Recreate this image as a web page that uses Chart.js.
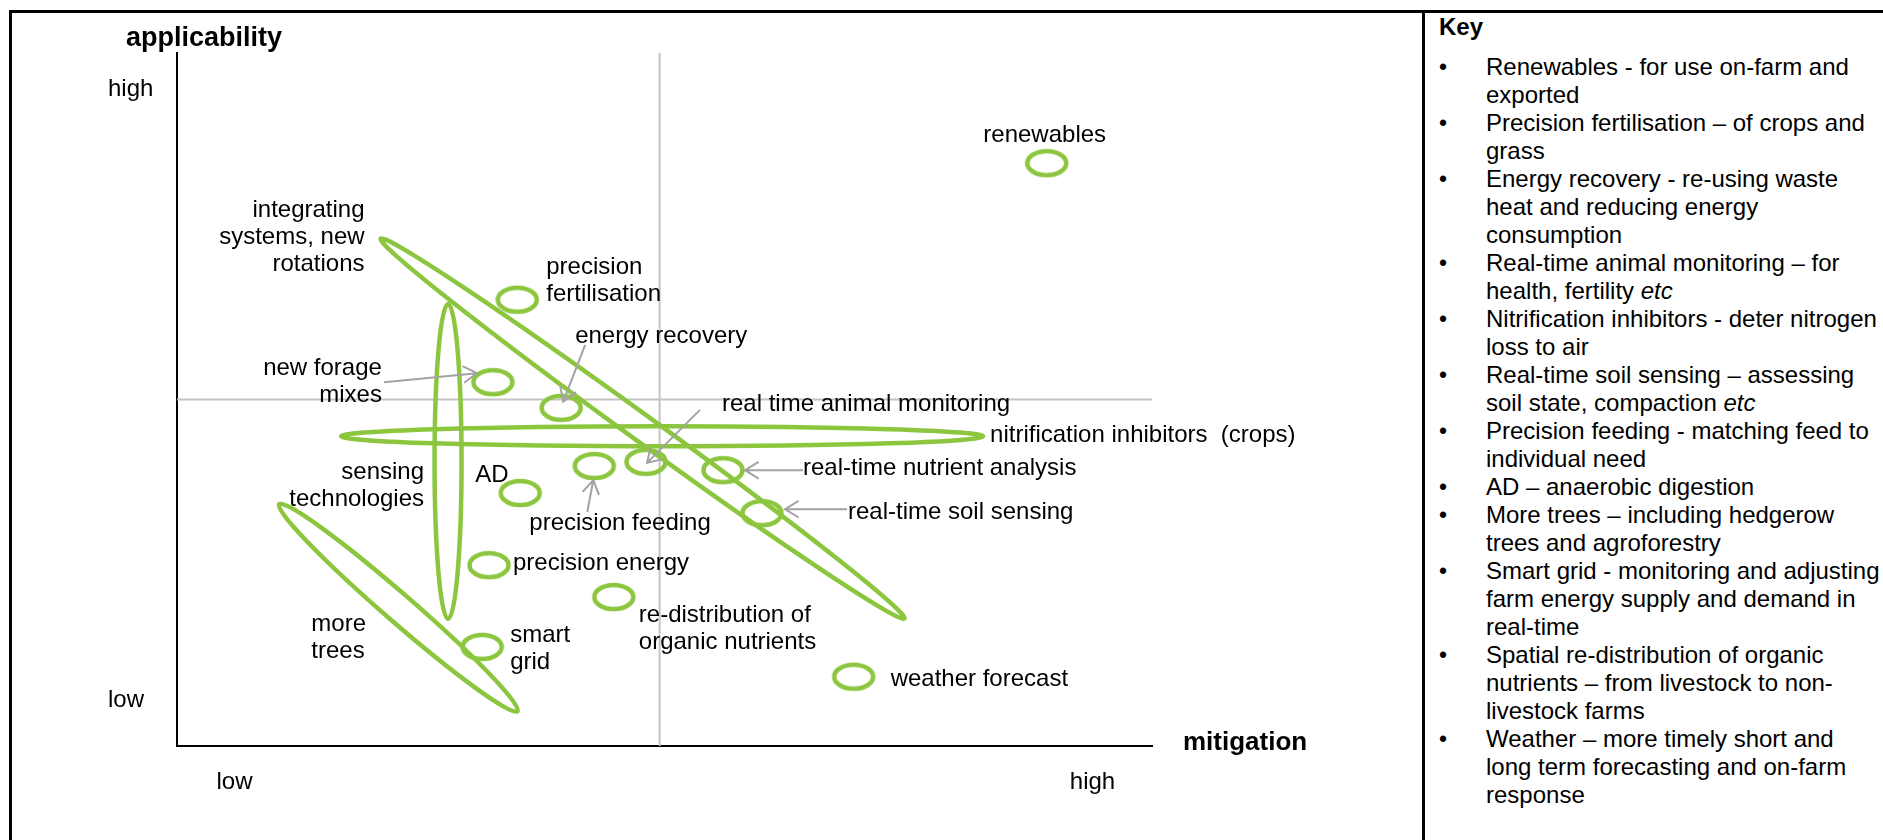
<!DOCTYPE html>
<html lang="en">
<head>
  <meta charset="UTF-8" />
  <title>Mitigation vs applicability</title>
  <script src="https://cdn.jsdelivr.net/npm/chart.js"></script>
  <style>
    body { margin: 0; background: #fff; font-family: 'Liberation Sans', Arial, sans-serif; }
    #frame { position: absolute; left: 9px; top: 10px; width: 1874px; height: 830px;
             border-top: 3px solid #000; border-left: 3px solid #000; }
    #sep { position: absolute; left: 1422px; top: 10px; width: 3px; height: 830px; background: #000; }
    #chart { position: absolute; left: 0; top: 0; }
    #key { position: absolute; left: 1439px; top: 13px; font-size: 24px; line-height: 28px; color: #000; white-space: nowrap; }
    #key h3 { margin: 0; font-size: 24px; font-weight: bold; }
    #key ul { list-style: none; margin: 12px 0 0 0; padding: 0; }
    #key li { position: relative; padding-left: 47px; }
    #key li::before { content: "\2022"; position: absolute; left: 0; font-size: 23px; }
  </style>
</head>
<body>
  <div id="frame"></div>
  <div id="sep"></div>
  <canvas id="chart" width="1420" height="840"></canvas>

  <div id="key">
    <h3>Key</h3>
    <ul>
      <li>Renewables - for use on-farm and<br>exported</li>
      <li>Precision fertilisation – of crops and<br>grass</li>
      <li>Energy recovery - re-using waste<br>heat and reducing energy<br>consumption</li>
      <li>Real-time animal monitoring – for<br>health, fertility <i>etc</i></li>
      <li>Nitrification inhibitors - deter nitrogen<br>loss to air</li>
      <li>Real-time soil sensing – assessing<br>soil state, compaction <i>etc</i></li>
      <li>Precision feeding - matching feed to<br>individual need</li>
      <li>AD – anaerobic digestion</li>
      <li>More trees – including hedgerow<br>trees and agroforestry</li>
      <li>Smart grid - monitoring and adjusting<br>farm energy supply and demand in<br>real-time</li>
      <li>Spatial re-distribution of organic<br>nutrients – from livestock to non-<br>livestock farms</li>
      <li>Weather – more timely short and<br>long term forecasting and on-farm<br>response</li>
    </ul>
  </div>

  <script>
    // measures (0 = low, 10 = high)
    const items = ['renewables', 'precision fertilisation', 'energy recovery', 'new forage mixes',
      'real time animal monitoring', 'real-time nutrient analysis', 'precision feeding', 'AD',
      'real-time soil sensing', 'precision energy', 're-distribution of organic nutrients',
      'smart grid', 'weather forecast'];
    const mitigation    = [8.92, 3.49, 3.94, 3.24, 4.81, 5.60, 4.28, 3.52, 6.00, 3.20, 4.48, 3.13, 6.94];
    const applicability = [8.41, 6.44, 4.88, 5.25, 4.10, 3.98, 4.04, 3.65, 3.36, 2.61, 2.15, 1.43, 1.00];

    // groups drawn as long ellipses, from one tip to the other
    const groups = ['integrating systems, new rotations', 'nitrification inhibitors  (crops)',
      'sensing technologies', 'more trees'];
    const groupFromX = [2.07, 1.66, 2.78, 1.03];
    const groupFromY = [7.34, 4.47, 6.41, 3.51];
    const groupToX   = [7.48, 8.29, 2.78, 3.51];
    const groupToY   = [1.82, 4.47, 1.80, 0.48];

    const xTickValues = [0.59, 9.39];
    const xTickLabels = ['low', 'high'];
    const yTickValues = [0.66, 9.47];
    const yTickLabels = ['low', 'high'];
    const midX = 4.95;
    const midY = 5;

    const GREEN = '#8cc63f';
    const ARROW = '#a3a3a3';
    const FONT = '"Liberation Sans", Arial, sans-serif';

    // label placement (pixel offsets from the ring centre) and callout arrows
    const itemLayout = [
      { lines: ['renewables'], dx: -2, dy: -28, align: 'center' },
      { lines: ['precision', 'fertilisation'], dx: 29, dy: -32, align: 'left' },
      { lines: ['energy recovery'], dx: 14, dy: -71, align: 'left', arrow: [24, -63, 2, -6] },
      { lines: ['new forage', 'mixes'], dx: -111, dy: -14, align: 'right', arrow: [-109, 0, -16, -9] },
      { lines: ['real time animal monitoring'], dx: 76, dy: -57, align: 'left', arrow: [54, -52, 1, 1] },
      { lines: ['real-time nutrient analysis'], dx: 80, dy: -2, align: 'left', arrow: [80, 0, 22, 0] },
      { lines: ['precision feeding'], dx: -65, dy: 57, align: 'left', arrow: [-7, 46, -1, 14] },
      { lines: ['AD'], dx: -45, dy: -18, align: 'left' },
      { lines: ['real-time soil sensing'], dx: 86, dy: -1, align: 'left', arrow: [85, -4, 23, -4] },
      { lines: ['precision energy'], dx: 24, dy: -2, align: 'left' },
      { lines: ['re-distribution of', 'organic nutrients'], dx: 25, dy: 18, align: 'left' },
      { lines: ['smart', 'grid'], dx: 28, dy: -12, align: 'left' },
      { lines: ['weather forecast'], dx: 37, dy: 3, align: 'left' }
    ];
    // offsets from the ellipse centre, half width of each ellipse
    const groupLayout = [
      { lines: ['integrating', 'systems, new', 'rotations'], dx: -278, dy: -218, align: 'right', half: 13 },
      { lines: ['nitrification inhibitors  (crops)'], dx: 328, dy: -1, align: 'left', half: 10 },
      { lines: ['sensing', 'technologies'], dx: -24, dy: 11, align: 'right', half: 13.5 },
      { lines: ['more', 'trees'], dx: -87, dy: 17, align: 'left', half: 14 }
    ];

    function ringImage() {
      const c = document.createElement('canvas');
      c.width = 48; c.height = 34;
      const g = c.getContext('2d');
      g.strokeStyle = GREEN;
      g.lineWidth = 4.5;
      g.beginPath();
      g.ellipse(24, 17, 19.5, 12, 0, 0, Math.PI * 2);
      g.stroke();
      return c;
    }

    function drawArrow(ctx, x1, y1, x2, y2) {
      const a = Math.atan2(y2 - y1, x2 - x1), len = 16, spread = 0.55;
      ctx.beginPath();
      ctx.moveTo(x1, y1);
      ctx.lineTo(x2, y2);
      ctx.moveTo(x2 - len * Math.cos(a - spread), y2 - len * Math.sin(a - spread));
      ctx.lineTo(x2, y2);
      ctx.lineTo(x2 - len * Math.cos(a + spread), y2 - len * Math.sin(a + spread));
      ctx.stroke();
    }

    function drawLines(ctx, lines, x, y, align) {
      ctx.textAlign = align;
      lines.forEach((t, i) => ctx.fillText(t, x, y + i * 27));
    }

    const overlay = {
      id: 'overlay',
      afterDatasetsDraw(chart) {
        const ctx = chart.ctx, xs = chart.scales.x, ys = chart.scales.y;
        ctx.save();

        // group ellipses
        ctx.strokeStyle = GREEN;
        ctx.lineWidth = 4.5;
        const centres = groups.map((g, i) => {
          const x1 = xs.getPixelForValue(groupFromX[i]), y1 = ys.getPixelForValue(groupFromY[i]);
          const x2 = xs.getPixelForValue(groupToX[i]), y2 = ys.getPixelForValue(groupToY[i]);
          const cx = (x1 + x2) / 2, cy = (y1 + y2) / 2;
          ctx.beginPath();
          ctx.ellipse(cx, cy, Math.hypot(x2 - x1, y2 - y1) / 2 - 2.25, groupLayout[i].half,
            Math.atan2(y2 - y1, x2 - x1), 0, Math.PI * 2);
          ctx.stroke();
          return [cx, cy];
        });

        // callout arrows
        ctx.strokeStyle = ARROW;
        ctx.lineWidth = 2;
        items.forEach((n, i) => {
          const l = itemLayout[i];
          if (!l.arrow) return;
          const px = xs.getPixelForValue(mitigation[i]), py = ys.getPixelForValue(applicability[i]);
          drawArrow(ctx, px + l.arrow[0], py + l.arrow[1], px + l.arrow[2], py + l.arrow[3]);
        });

        // labels
        ctx.fillStyle = '#000';
        ctx.font = '24px ' + FONT;
        ctx.textBaseline = 'middle';
        items.forEach((n, i) => {
          const l = itemLayout[i];
          const px = xs.getPixelForValue(mitigation[i]), py = ys.getPixelForValue(applicability[i]);
          drawLines(ctx, l.lines, px + l.dx, py + l.dy, l.align);
        });
        groups.forEach((g, i) => {
          const l = groupLayout[i];
          drawLines(ctx, l.lines, centres[i][0] + l.dx, centres[i][1] + l.dy, l.align);
        });

        // axis titles
        const area = chart.chartArea;
        ctx.textAlign = 'left';
        ctx.font = 'bold 27px ' + FONT;
        ctx.fillText('applicability', area.left - 51, area.top - 14);
        ctx.font = 'bold 26px ' + FONT;
        ctx.fillText('mitigation', area.right + 31, area.bottom - 3);
        ctx.restore();
      }
    };

    Chart.defaults.font.family = FONT;
    Chart.defaults.color = '#000';

    new Chart(document.getElementById('chart'), {
      type: 'scatter',
      data: {
        datasets: [
          {
            label: 'measures',
            data: items.map((n, i) => ({ x: mitigation[i], y: applicability[i] })),
            pointStyle: ringImage(),
            order: 0
          },
          {
            label: 'mid mitigation',
            data: [{ x: midX, y: 0 }, { x: midX, y: 10 }],
            showLine: true, borderColor: '#c3c3c3', borderWidth: 2, pointRadius: 0, order: 3
          },
          {
            label: 'mid applicability',
            data: [{ x: 0, y: midY }, { x: 10, y: midY }],
            showLine: true, borderColor: '#c3c3c3', borderWidth: 2, pointRadius: 0, order: 3
          }
        ]
      },
      options: {
        responsive: false,
        animation: false,
        events: [],
        layout: { padding: { left: 108, right: 268, top: 53, bottom: 24 } },
        plugins: { legend: { display: false }, tooltip: { enabled: false } },
        scales: {
          x: {
            type: 'linear', min: 0, max: 10,
            grid: { display: false, drawTicks: false },
            border: { display: true, color: '#000', width: 2 },
            ticks: { padding: 22, autoSkip: false, maxRotation: 0, font: { size: 24 },
                     callback: (v, i) => xTickLabels[i] },
            afterBuildTicks: s => { s.ticks = xTickValues.map(v => ({ value: v })); },
            afterFit: s => { s.height = 70; }
          },
          y: {
            type: 'linear', min: 0, max: 10,
            grid: { display: false, drawTicks: false },
            border: { display: true, color: '#000', width: 2 },
            ticks: { padding: 20, crossAlign: 'far', autoSkip: false, font: { size: 24 },
                     callback: (v, i) => yTickLabels[i] },
            afterBuildTicks: s => { s.ticks = yTickValues.map(v => ({ value: v })); },
            afterFit: s => { s.width = 69; }
          }
        }
      },
      plugins: [overlay]
    });
  </script>
</body>
</html>
